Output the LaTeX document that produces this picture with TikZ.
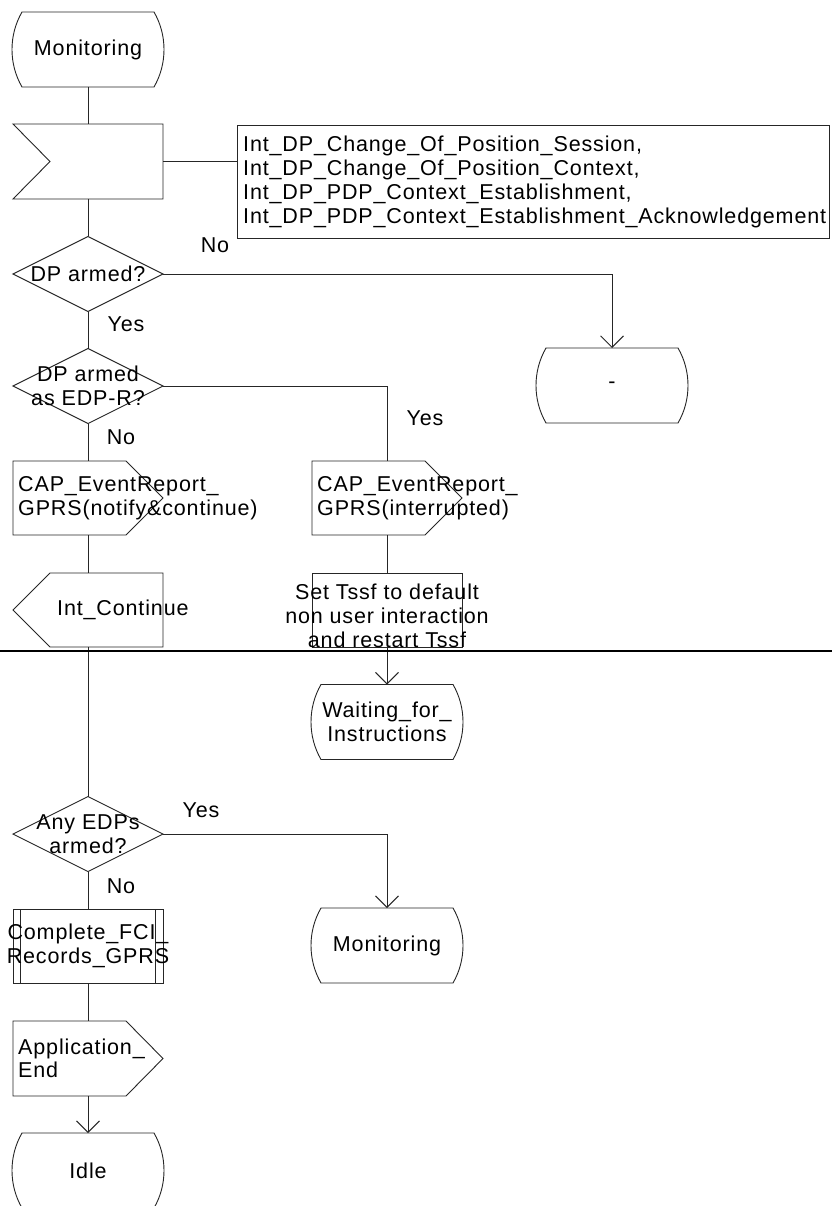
\documentclass[tikz,border=0pt]{standalone}
\usepackage{fontspec}
\setmainfont{Liberation Sans}[LetterSpace=4]
\usetikzlibrary{arrows.meta}

\tikzset{
  sym/.style={draw=none, inner sep=0pt, outer sep=0pt, minimum width=150pt, minimum height=75pt},
  statesym/.style={sym, minimum width=152pt},
  outline/.style={draw=black!85, line width=0.9pt},
  lbl/.style={inner sep=0pt, align=center},
  lbll/.style={inner sep=0pt, align=left, anchor=west},
  flow/.style={draw=black!85, line width=0.9pt},
  flowarr/.style={flow, -{Straight Barb[length=11.5pt,width=23pt]}},
  separator/.style={draw=black, line width=2pt},
}

% SDL state: flat top and bottom, bulging sides
\newcommand\sdlstate[1]{%
  \draw[outline] ([xshift=10pt]#1.north west) -- ([xshift=-10pt]#1.north east)
    .. controls ([xshift=-3.4pt,yshift=-11.4pt]#1.north east) and ([yshift=13.2pt]#1.east) .. (#1.east)
    .. controls ([yshift=-13.2pt]#1.east) and ([xshift=-3.4pt,yshift=11.4pt]#1.south east) .. ([xshift=-10pt]#1.south east)
    -- ([xshift=10pt]#1.south west)
    .. controls ([xshift=3.4pt,yshift=11.4pt]#1.south west) and ([yshift=-13.2pt]#1.west) .. (#1.west)
    .. controls ([yshift=13.2pt]#1.west) and ([xshift=3.4pt,yshift=-11.4pt]#1.north west) .. cycle;}
% SDL input: notch on the left
\newcommand\sdlinput[1]{%
  \draw[outline] (#1.north west) -- (#1.north east) -- (#1.south east) -- (#1.south west)
    -- ([xshift=37pt]#1.west) -- cycle;}
% SDL output: point on the right
\newcommand\sdloutput[1]{%
  \draw[outline] (#1.north west) -- ([xshift=-37pt]#1.north east) -- (#1.east)
    -- ([xshift=-37pt]#1.south east) -- (#1.south west) -- cycle;}
% SDL output: point on the left
\newcommand\sdlsendleft[1]{%
  \draw[outline] (#1.west) -- ([xshift=37pt]#1.north west) -- (#1.north east)
    -- (#1.south east) -- ([xshift=37pt]#1.south west) -- cycle;}
% SDL decision
\newcommand\sdldecision[1]{%
  \draw[outline] (#1.north) -- (#1.east) -- (#1.south) -- (#1.west) -- cycle;}
% SDL procedure call
\newcommand\sdlproc[1]{%
  \draw[outline] (#1.north west) rectangle (#1.south east)
    ([xshift=7.5pt]#1.north west) -- ([xshift=7.5pt]#1.south west)
    ([xshift=-7.5pt]#1.north east) -- ([xshift=-7.5pt]#1.south east);}

\begin{document}
\begin{tikzpicture}[x=1pt, y=-1pt, font=\fontsize{21.5pt}{23.5pt}\selectfont]
\useasboundingbox[fill=white] (0,0) rectangle (832,1206);

% symbol frames
\node[statesym] (mon1) at (88,49.5) {};
\node[sym] (inp) at (88,161.5) {};
\node[sym, outline, minimum width=592pt, minimum height=113pt] (sigs) at (533,181.5) {};
\node[sym] (dec1) at (88,274) {};
\node[statesym] (dash) at (612,385.5) {};
\node[sym] (dec2) at (88,386) {};
\node[sym, minimum height=74pt] (out1) at (88,498) {};
\node[sym, minimum height=74pt] (out2) at (387,498) {};
\node[sym, minimum height=74pt] (cont) at (88,610) {};
\node[sym, outline, minimum height=74pt] (task) at (387,610) {};
\node[statesym] (wait) at (387,722) {};
\node[sym] (dec3) at (88,834) {};
\node[statesym] (mon2) at (387,945.5) {};
\node[sym, minimum height=74pt] (proc) at (88,946) {};
\node[sym] (appEnd) at (88,1058.5) {};
\node[statesym] (idle) at (88,1170.5) {};

\sdlstate{mon1}
\sdlinput{inp}
\sdldecision{dec1}
\sdlstate{dash}
\sdldecision{dec2}
\sdloutput{out1}
\sdloutput{out2}
\sdlsendleft{cont}
\sdlstate{wait}
\sdldecision{dec3}
\sdlstate{mon2}
\sdlproc{proc}
\sdloutput{appEnd}
\sdlstate{idle}

% symbol texts
\node[lbl] (mon1-t) at (mon1) {Monitoring};
\node[lbll, font=\fontsize{21.5pt}{24pt}\selectfont] (sigs-t) at (243,181.5)
  {Int\_DP\_Change\_Of\_Position\_Session,\\
   Int\_DP\_Change\_Of\_Position\_Context,\\
   Int\_DP\_PDP\_Context\_Establishment,\\
   Int\_DP\_PDP\_Context\_Establishment\_Acknowledgement};
\node[lbl] (dec1-t) at (dec1) {DP armed?};
\node[lbl] (dash-t) at (dash) {-};
\node[lbl] (dec2-t) at (dec2) {DP armed\\as EDP-R?};
\node[lbll] (out1-t) at ([xshift=5pt]out1.west) {CAP\_EventReport\_\\GPRS(notify\&continue)};
\node[lbll] (out2-t) at ([xshift=5pt]out2.west) {CAP\_EventReport\_\\GPRS(interrupted)};
\node[lbll] (cont-t) at ([xshift=44pt]cont.west) {Int\_Continue};
\node[lbl, font=\fontsize{21.5pt}{24pt}\selectfont] (task-t) at ([yshift=-6pt]task.center)
  {Set Tssf to default\\non user interaction\\and restart Tssf};
\node[lbl] (wait-t) at (wait) {Waiting\_for\_\\Instructions};
\node[lbl] (dec3-t) at (dec3) {Any EDPs\\armed?};
\node[lbl] (mon2-t) at (mon2) {Monitoring};
\node[lbl] (proc-t) at (proc) {Complete\_FCI\_\\Records\_GPRS};
\node[lbll] (appEnd-t) at ([xshift=5pt]appEnd.west) {Application\_\\End};
\node[lbl] (idle-t) at (idle) {Idle};

% branch labels
\node[lbl] (no1) at (215,245) {No};
\node[lbl] (yes1) at (126,324) {Yes};
\node[lbl] (yes2) at (425,418) {Yes};
\node[lbl] (no2) at (121,437) {No};
\node[lbl] (yes3) at (201,810) {Yes};
\node[lbl] (no3) at (121,886) {No};

% flow lines
\draw[flow] (mon1.south) -- (inp.north);
\draw[flow] (inp.east) -- (inp.east -| sigs.west);
\draw[flow] (inp.south) -- (dec1.north);
\draw[flowarr] (dec1.east) -| (dash.north);
\draw[flow] (dec1.south) -- (dec2.north);
\draw[flow] (dec2.east) -| (out2.north);
\draw[flow] (dec2.south) -- (out1.north);
\draw[flow] (out1.south) -- (cont.north);
\draw[flow] (out2.south) -- (task.north);
\draw[flowarr] (task.south) -- (wait.north);
\draw[flow] (cont.south) -- (dec3.north);
\draw[flowarr] (dec3.east) -| (mon2.north);
\draw[flow] (dec3.south) -- (proc.north);
\draw[flow] (proc.south) -- (appEnd.north);
\draw[flowarr] (appEnd.south) -- (idle.north);

% page separator
\coordinate (sepL) at (0,651);
\coordinate (sepR) at (832,651);
\draw[separator] (sepL) -- (sepR);
\end{tikzpicture}
\end{document}
